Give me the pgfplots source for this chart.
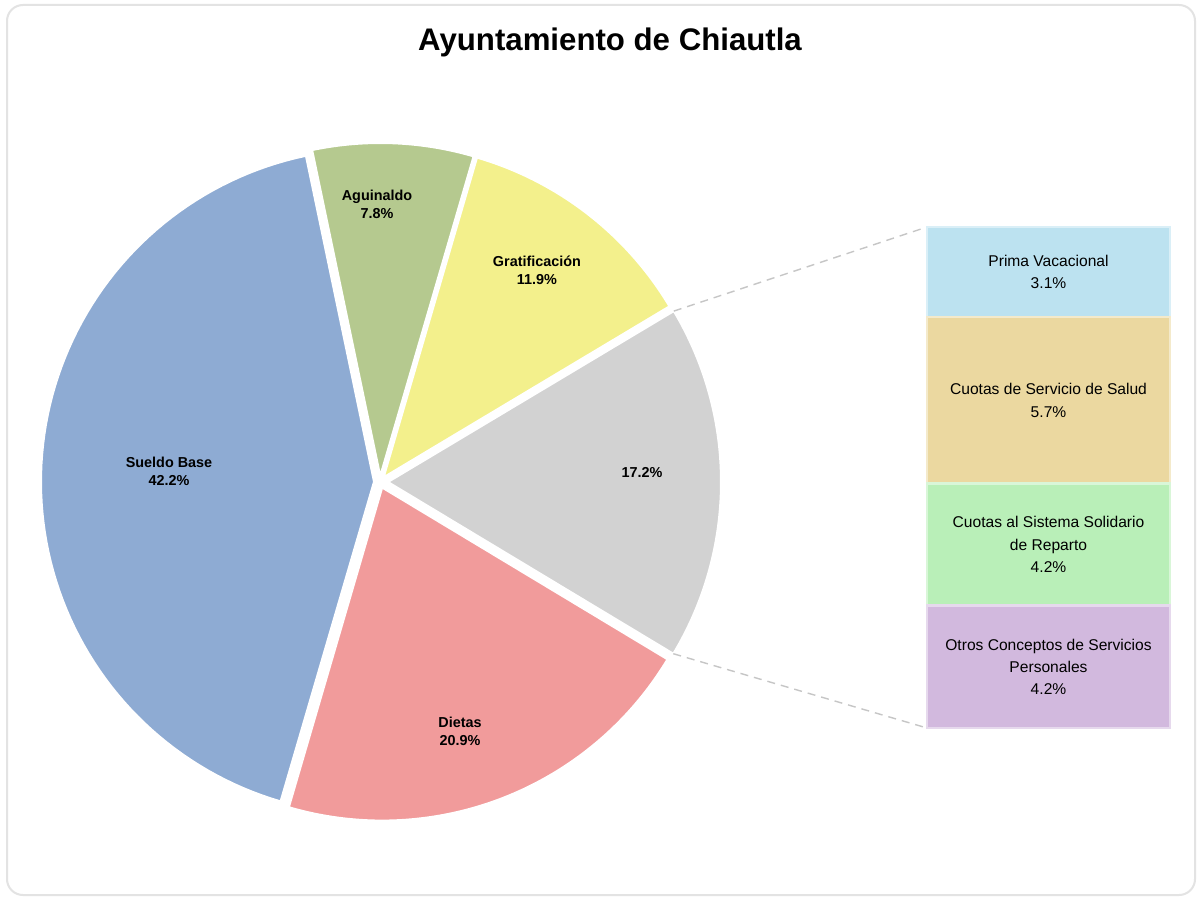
\documentclass[border=0pt]{standalone}
\usepackage{fontspec}
\setmainfont{Liberation Sans}
\usepackage{pgfplots}
\pgfplotsset{compat=1.18}
\definecolor{cSueldo}{HTML}{8EABD3}
\definecolor{cAgui}{HTML}{B5C98F}
\definecolor{cGrat}{HTML}{F3F08C}
\definecolor{cOtro}{HTML}{D2D2D2}
\definecolor{cDietas}{HTML}{F19B9B}
\definecolor{cPrima}{HTML}{BCE2F0}
\definecolor{cSalud}{HTML}{EBD8A0}
\definecolor{cSistema}{HTML}{B9EFB8}
\definecolor{cOtros}{HTML}{D2B9DE}
\newcommand\cx{380}
\newcommand\cy{419}
\newcommand\R{333}
\gdef\cum{101.8}
% pct, colour, explode
\newcommand\slice[3]{%
  \pgfmathsetmacro\sa{\cum}%
  \pgfmathsetmacro\sb{\cum+3.6*#1}%
  \pgfmathsetmacro\sm{\cum+1.8*#1}%
  \pgfmathsetmacro\ox{\cx+#3*cos(\sm)}%
  \pgfmathsetmacro\oy{\cy+#3*sin(\sm)}%
  \edef\tmp{\noexpand\addplot[fill=#2, draw=white, line width=1pt, domain=\sa:\sb, samples=90, variable=\noexpand\t] ({\ox+\R*cos(\noexpand\t)},{\oy+\R*sin(\noexpand\t)}) -- (axis cs:\ox,\oy) -- cycle;}%
  \tmp
  \xdef\cum{\sb}%
}
\newcommand\lblfont{\fontsize{7.2}{9}\selectfont\bfseries}
\newcommand\barfont{\fontsize{7.8}{11.2}\selectfont}
\begin{document}
\begin{tikzpicture}
\begin{axis}[name=pie, at={(0,0)}, anchor=south west,
  width=601pt, height=450.5pt, scale only axis, hide axis,
  xmin=0, xmax=1202, ymin=0, ymax=901, clip=false]
\fill[white] (axis cs:0,0) rectangle (axis cs:1202,901);
\draw[gray!22, line width=1pt, rounded corners=8pt] (axis cs:7,6) rectangle (axis cs:1195,896);
\node[font=\fontsize{15.6}{18}\selectfont\bfseries] at (axis cs:610,859) {Ayuntamiento de Chiautla};
% pie slices (percentages)
\slice{42.2}{cSueldo}{6}
\slice{20.9}{cDietas}{6}
\slice{17.2}{cOtro}{8}
\pgfmathsetmacro\pxa{\ox+\R*cos(\sa)}\pgfmathsetmacro\pya{\oy+\R*sin(\sa)}%
\pgfmathsetmacro\pxb{\ox+\R*cos(\sb)}\pgfmathsetmacro\pyb{\oy+\R*sin(\sb)}%
\edef\tmp{\noexpand\draw[gray!45, line width=0.7pt, dash pattern=on 4pt off 3pt] (axis cs:\pxa,\pya) -- (axis cs:927,173); \noexpand\draw[gray!45, line width=0.7pt, dash pattern=on 4pt off 3pt] (axis cs:\pxb,\pyb) -- (axis cs:927,674);}\tmp
\slice{11.9}{cGrat}{6}
\slice{7.8}{cAgui}{6}
\node[font=\lblfont, align=center] at (axis cs:169,430) {Sueldo Base\\42.2\%};
\node[font=\lblfont, align=center] at (axis cs:377,697) {Aguinaldo\\7.8\%};
\node[font=\lblfont, align=center] at (axis cs:537,631) {Gratificación\\11.9\%};
\node[font=\lblfont, align=center] at (axis cs:642,428) {17.2\%};
\node[font=\lblfont, align=center] at (axis cs:460,170) {Dietas\\20.9\%};
\end{axis}
\begin{axis}[at={(463.5pt,86.5pt)}, anchor=south west,
  width=121.5pt, height=250.5pt, scale only axis, hide axis,
  xmin=0, xmax=1, ymin=0, ymax=17.2, ybar stacked, bar width=121.5pt, clip=false]
\addplot[fill=cOtros, draw=cOtros!55!white, line width=1.2pt] coordinates {(0.5,4.2)};
\addplot[fill=cSistema, draw=cSistema!55!white, line width=1.2pt] coordinates {(0.5,4.2)};
\addplot[fill=cSalud, draw=cSalud!55!white, line width=1.2pt] coordinates {(0.5,5.7)};
\addplot[fill=cPrima, draw=cPrima!55!white, line width=1.2pt] coordinates {(0.5,3.1)};
\coordinate (lPrima) at (axis cs:0.5,15.65);
\coordinate (lSalud) at (axis cs:0.5,11.25);
\coordinate (lSistema) at (axis cs:0.5,6.3);
\coordinate (lOtros) at (axis cs:0.5,2.1);
\end{axis}
\node[font=\barfont, align=center] at (lPrima) {Prima Vacacional\\3.1\%};
\node[font=\barfont, align=center] at (lSalud) {Cuotas de Servicio de Salud\\5.7\%};
\node[font=\barfont, align=center] at (lSistema) {Cuotas al Sistema Solidario\\de Reparto\\4.2\%};
\node[font=\barfont, align=center] at (lOtros) {Otros Conceptos de Servicios\\Personales\\4.2\%};
\end{tikzpicture}
\end{document}
